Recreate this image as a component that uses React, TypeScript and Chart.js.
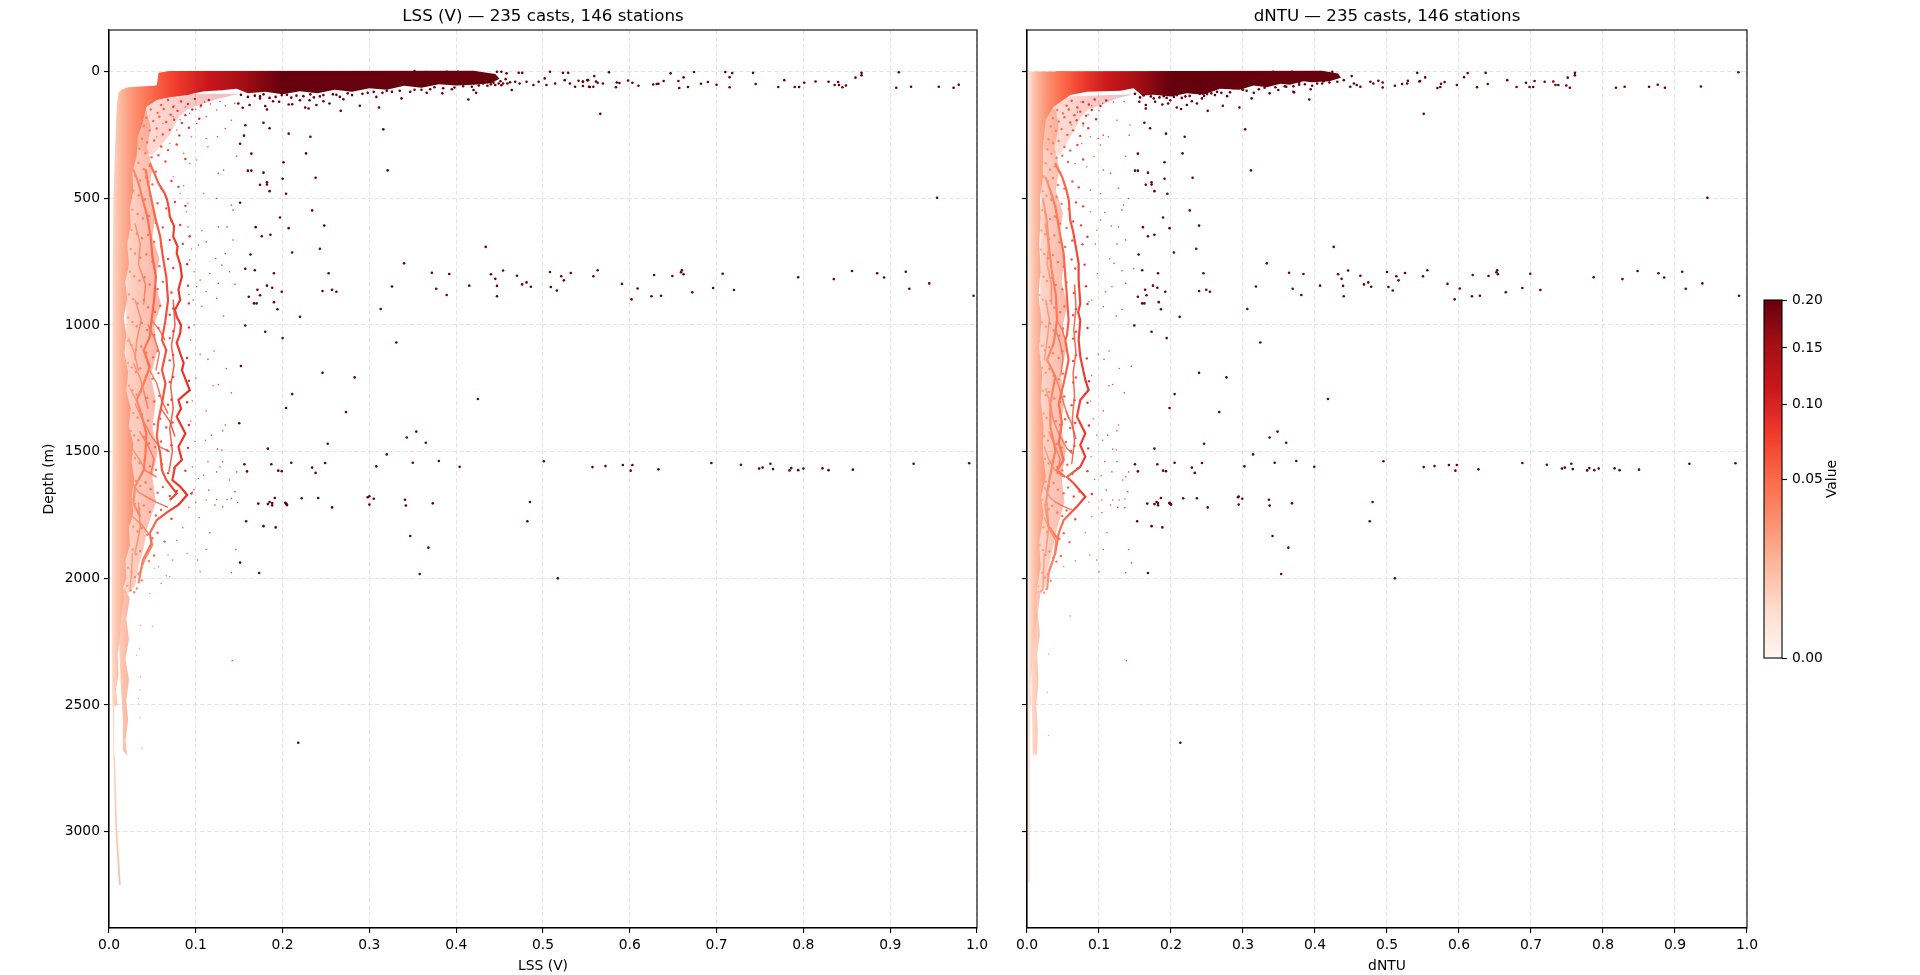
import React, { useEffect, useRef } from "react";
import { Chart, registerables, LinearScale } from "chart.js";

class SqrtScale extends LinearScale {
  static id = "sqrtNorm";
  static defaults = LinearScale.defaults;
  getPixelForValue(value: number) {
    return this.getPixelForDecimal(Math.sqrt(Math.max(value, 0) / this.max));
  }
  getValueForPixel(pixel: number) {
    const d = this.getDecimalForPixel(pixel);
    return d * d * this.max;
  }
}
Chart.register(...registerables, SqrtScale as any);

type P = [number, number];

const panelTitles = ["LSS (V) \u2014 235 casts, 146 stations", "dNTU \u2014 235 casts, 146 stations"];
const xLabels = ["LSS (V)", "dNTU"];
const xTicks = [0, 0.1, 0.2, 0.3, 0.4, 0.5, 0.6, 0.7, 0.8, 0.9, 1];
const depthTicks = [0, 500, 1000, 1500, 2000, 2500, 3000];
const depthRange = [-164, 3380];
const colorTicks = [0, 0.05, 0.1, 0.15, 0.2];
const redsRamp = [[255,245,240],[254,224,210],[252,187,161],[252,146,114],[251,106,74],[239,59,44],[203,24,29],[165,15,21],[103,0,13]];

const lssOutliers: P[] = [[.157,212],[.178,202],[.185,224],[.1555,253],[.207,245],[.232,257],[.151,285],[.164,324],[.227,323],[.316,228],[.321,390],[.201,358],[.160,391],[.164,391],[.178,399],[.200,423],[.238,419],[.174,447],[.182,437],[.182,446],[.185,472],[.204,482],[.151,518],[.234,548],[.197,576],[.169,614],[.207,618],[.248,608],[.176,650],[.186,644],[.243,699],[.211,714],[.163,722],[.434,692],[.340,757],[.157,778],[.168,784],[.190,796],[.253,796],[.372,794],[.392,799],[.440,800],[.454,785],[.445,818],[.470,806],[.508,791],[.521,808],[.532,795],[.481,832],[.476,840],[.486,849],[.415,845],[.447,846],[.377,857],[.326,848],[.509,850],[.516,864],[.524,824],[.389,882],[.447,887],[.182,845],[.188,853],[.171,861],[.174,883],[.161,889],[.199,869],[.167,915],[.170,915],[.190,910],[.194,938],[.246,866],[.257,861],[.262,869],[.313,937],[.220,968],
[.558,808],[.563,784],[.591,838],[.602,899],[.609,856],[.625,887],[.636,885],[.628,803],[.649,807],[.659,792],[.660,784],[.662,800],[.672,871],[.696,854],[.707,798],[.720,862],[.794,812],[.835,819],[.856,787],[.885,796],[.893,813],[.918,790],[.922,857],[.945,836],[.996,885],[.954,498],
[.157,1002],[.180,1027],[.200,1052],[.331,1069],[.152,1162],[.246,1189],[.283,1207],[.211,1273],[.204,1328],[.273,1344],[.150,1388],[.252,1469],[.183,1488],[.320,1511],[.156,1550],[.187,1550],[.210,1544],[.249,1545],[.159,1578],[.195,1575],[.199,1577],[.234,1563],[.238,1584],[.308,1558],[.191,1683],[.222,1684],[.241,1683],[.298,1680],[.300,1676],[.305,1686],[.300,1709],[.172,1705],[.183,1707],[.185,1699],[.188,1703],[.188,1712],[.203,1702],[.204,1705],[.205,1709],[.205,1711],[.257,1720],[.158,1775],[.178,1794],[.192,1799],[.151,1938],[.173,1979],[.218,2649],
[.425,1292],[.354,1421],[.343,1444],[.365,1465],[.380,1537],[.350,1544],[.404,1560],[.501,1538],[.557,1561],[.572,1557],[.592,1553],[.603,1553],[.601,1575],[.633,1570],[.694,1545],[.728,1552],[.749,1567],[.753,1563],[.762,1548],[.765,1569],[.784,1574],[.786,1565],[.794,1573],[.800,1567],[.822,1566],[.829,1573],[.857,1571],[.927,1548],[.991,1546],[.341,1690],[.342,1713],[.373,1704],[.485,1699],[.482,1775],[.347,1833],[.368,1879],[.358,1983],[.517,2000]];

const lssSurfaceDots: P[] = [[.576,3],[.559,18],[.561,39],[.569,47],[.554,61],[.546,57],[.563,44],[.558,60],[.551,34],[.546,39],[.585,43],[.588,45],[.584,62],[.598,35],[.603,44],[.610,56],[.627,51],[.631,49],[.633,48],[.639,37],[.647,7],[.656,37],[.657,65],[.662,23],[.667,61],[.674,2],[.682,48],[.690,41],[.700,52],[.710,2],[.718,6],[.715,22],[.715,62],[.742,5],[.745,49],[.771,61],[.778,34],[.790,61],[.795,61],[.801,44],[.814,39],[.829,40],[.836,53],[.840,41],[.841,53],[.845,62],[.849,55],[.860,24],[.867,5],[.867,15],[.907,64],[.910,3],[.924,60],[.956,60],[.973,64],[.979,52],[.566,167],
[.439,21],[.435,40],[.445,53],[.447,1],[.452,1],[.458,7],[.459,47],[.464,73],[.468,40],[.472,5],[.476,5],[.473,47],[.481,40],[.489,53],[.495,40],[.502,27],[.508,1],[.504,53],[.514,47],[.523,5],[.529,5],[.525,34],[.531,47],[.537,60],[.541,36],[.546,40],[.552,34],[.553,60],[.454,47],[.449,47],[.431,47],[.420,73],[.402,1],[.412,5],[.420,5],[.389,1],[.397,7],[.433,27],[.428,14],[.438,33],[.443,44],[.451,38],[.457,30],[.462,42],[.426,55],[.418,60],[.408,58],[.398,63],[.385,66],[.375,62],[.378,4],[.365,2],[.352,-2],[.440,50],[.436,56],[.452,54],
[.149,126],[.154,143],[.162,132],[.174,106],[.180,136],[.182,150],[.189,117],[.196,119],[.207,130],[.211,129],[.220,113],[.226,142],[.231,113],[.230,146],[.239,132],[.247,117],[.254,126],[.267,155],[.270,109],[.280,93],[.289,135],[.308,100],[.311,142],[.337,106],[.366,84],[.384,86],[.414,110],[.423,84],[.174,97],[.199,93],[.224,97],[.247,93],[.266,100],[.305,80],[.326,80],[.347,80],[.160,100],[.185,104],[.210,103],[.236,102],[.258,90],[.292,88],[.320,76],[.360,72],[.395,70],[.152,92],[.168,95],[.178,90],[.192,100],[.205,92],[.216,95],[.232,90],[.243,98],[.262,92],[.275,86],[.298,84],[.315,84],[.335,76],[.352,72],[.370,70]];

const lssSpeckle: P[] = [[.105,1116],[.114,1136],[.121,1103],[.135,1172],[.126,1235],[.120,1240],[.141,1268],[.112,1339],[.134,1395],[.131,1418],[.118,1435],[.111,1455],[.125,1490],[.130,1494],[.114,1540],[.131,1540],[.128,1560],[.124,1580],[.147,1580],[.139,1612],[.109,1593],[.103,1606],[.115,1652],[.145,1658],[.141,1685],[.148,1701],[.136,1689],[.124,1689],[.112,1691],[.122,1711],[.131,1718],[.104,1761],[.116,1820],[.112,1886],[.146,1886],[.068,1908],[.090,1902],[.073,1928],[.102,1928],[.057,1954],[.070,1994],[.141,1978],[.105,1974],
[.101,205],[.112,264],[.125,257],[.114,297],[.134,225],[.141,192],[.147,334],[.101,349],[.093,363],[.126,402],[.132,389],[.109,481],[.124,501],[.141,527],[.089,553],[.143,547],[.107,628],[.126,613],[.136,613],[.112,672],[.143,665],[.103,685],[.134,718],[.123,738],[.130,764],[.116,797],[.139,790],[.126,836],[.145,840],[.112,869],[.124,895],[.107,926],[.132,965],[.105,823],[.097,902],[.095,257],[.078,231],[.070,284],[.086,323],[.074,415],[.082,481],[.091,613],[.093,744],[.101,849],[.112,178],[.124,152],[.093,165],[.074,178],[.062,205],[.055,257],[.061,297],
[.050,2189],[.036,2185],[.035,2277],[.032,2303],[.036,2389],[.036,2441],[.034,2474],[.036,2550],[.038,2671],[.142,2325],
[.095,700],[.098,1000],[.100,1210],[.096,1300],[.094,1380],[.099,1460],[.096,1560],[.098,1650],[.092,1720],[.085,1800],[.078,1850],[.066,1990],[.060,2020],[.047,2060],[.052,1960],[.086,450],[.091,520],[.098,790],[.092,880],[.094,1060],[.096,1660],[.100,1700],[.110,120],[.128,118],[.145,125],[.088,140],[.100,150],[.117,128],[.075,135],[.082,190],[.105,140],[.134,135]];

// x in thousandths, depth in metres, read pair by pair
const lssFineDots = [45,118,52,105,60,132,68,112,74,140,83,118,91,128,99,108,106,134,115,112,48,150,56,163,63,148,71,170,79,155,88,172,96,150,43,182,51,195,58,178,66,199,75,190,84,203,104,186,
40,215,47,232,55,225,62,248,70,230,81,252,92,222,38,265,44,280,52,272,60,296,68,310,78,288,35,305,42,322,49,338,57,330,65,355,88,345,34,360,40,385,47,372,54,395,
30,412,36,430,43,418,50,446,60,460,72,432,80,455,28,470,34,488,41,505,48,492,56,520,66,540,76,515,88,530,27,545,33,562,39,580,46,570,54,598,62,615,72,590,82,605,26,625,32,640,38,658,45,645,52,672,60,690,70,665,85,680,93,650,25,700,30,718,36,735,43,722,50,750,58,768,68,740,74,775,90,760,
24,790,29,808,35,825,41,812,47,840,56,858,62,830,72,872,91,845,23,880,28,898,33,915,40,902,45,930,53,948,59,925,70,960,74,935,92,915,22,970,27,988,32,1005,38,992,44,1020,52,1040,57,1012,70,1052,74,1025,92,1010,22,1062,26,1080,31,1098,37,1085,43,1110,51,1128,56,1102,70,1140,74,1118,90,1130,22,1150,26,1168,31,1186,36,1172,43,1198,50,1212,
57,1190,70,1225,74,1205,92,1220,23,1240,27,1258,32,1275,37,1262,44,1288,52,1302,58,1280,68,1315,72,1295,90,1305,24,1330,28,1348,33,1365,38,1352,45,1378,52,1392,59,1370,66,1405,73,1385,92,1395,25,1418,29,1436,34,1455,40,1442,46,1468,53,1482,60,1460,67,1495,72,1475,91,1485,26,1508,30,1526,35,1545,41,1532,47,1558,54,1572,61,1550,68,1585,75,1565,88,1575,27,1598,31,1616,36,1635,42,1622,48,1648,56,1662,62,1640,70,1675,78,1655,95,1665,
26,1688,30,1706,35,1725,40,1712,47,1738,54,1752,60,1730,72,1765,24,1778,28,1796,33,1815,38,1802,44,1828,50,1842,56,1820,64,1855,23,1868,27,1886,31,1905,36,1892,41,1918,46,1932,52,1910,22,1958,26,1976,30,1995,34,1982,38,2008,21,2030,25,2048,29,2055,32,2040];

const lssBody: P[] = [[.022,62],[.014,72],[.011,85],[.009,130],[.007,300],[.005,500],[.004,1000],[.004,1500],[.003,2000],[.003,2300],[.004,2510],[.010,2500],[.008,2440],[.011,2380],[.010,2300],[.013,2220],[.014,2150],[.017,2090],[.016,2040],[.020,2000],[.019,1930],[.024,1870],[.023,1800],[.028,1740],[.026,1680],[.029,1610],[.026,1540],[.028,1470],[.023,1400],[.025,1330],[.020,1260],[.022,1190],[.018,1110],[.020,1040],[.017,970],[.021,900],[.019,830],[.023,760],[.021,680],[.025,610],[.024,540],[.028,470],[.027,400],[.032,330],[.033,260],[.039,200],[.043,140],[.055,112],[.070,100],[.093,92],[.093,60],[.055,55]];
const lssSurface: P[] = [[.057,5],[.070,-2],[.420,-3],[.445,10],[.450,28],[.440,46],[.420,52],[.400,55],[.380,50],[.360,64],[.340,56],[.320,72],[.300,66],[.280,80],[.260,72],[.240,86],[.220,78],[.200,90],[.180,80],[.160,86],[.147,68],[.130,74],[.110,78],[.093,90],[.060,105],[.030,75],[.055,55]];
const lssTail: P[] = [[.004,2400],[.005,2700],[.0075,3000],[.0115,3210],[.0135,3210],[.0095,3000],[.0068,2700],[.006,2400]];
const lssDeepColumn: P[] = [[.010,2050],[.018,2040],[.024,2080],[.020,2160],[.023,2240],[.019,2320],[.023,2400],[.020,2480],[.022,2560],[.019,2640],[.021,2700],[.016,2680],[.016,2560],[.014,2450],[.012,2300]];
const lssHaze: P[] = [[.03,90],[.15,88],[.125,108],[.11,125],[.09,150],[.08,180],[.07,250],[.05,330],[.03,300]];
const lssMidBand: P[] = [[.02,120],[.042,140],[.048,220],[.044,300],[.050,380],[.046,470],[.054,560],[.050,650],[.058,740],[.053,830],[.060,920],[.052,1000],[.056,1100],[.048,1200],[.054,1300],[.050,1400],[.056,1500],[.050,1600],[.054,1700],[.044,1800],[.040,1880],[.034,1950],[.030,2030],[.022,2060],[.012,2060],[.02,1000]];
const lssVeins: P[][] = [
  [[.047,362],[.052,400],[.057,441],[.064,480],[.067,507],[.069,540],[.070,572],[.075,610],[.074,652],[.079,690],[.078,717],[.082,760],[.084,810],[.080,860],[.082,902],[.076,940],[.078,968],[.083,1000],[.082,1033],[.078,1070],[.082,1112],[.086,1150],[.084,1178],[.093,1257],[.080,1296],[.083,1330],[.078,1362],[.088,1428],[.080,1481],[.084,1533],[.076,1560],[.073,1612],[.082,1638],[.090,1671],[.080,1710],[.068,1737],[.055,1770],[.047,1822],[.049,1862],[.039,1928],[.034,2020]],
  [[.042,385],[.045,441],[.049,507],[.053,572],[.059,652],[.062,730],[.066,810],[.068,902],[.065,981],[.061,1060],[.066,1099],[.061,1178],[.065,1231],[.061,1310],[.057,1375],[.055,1441],[.059,1507],[.061,1573],[.066,1612],[.078,1665],[.070,1691]],
  [[.028,385],[.034,441],[.039,507],[.044,572],[.048,652],[.050,730],[.054,810],[.052,902],[.049,981],[.047,1047],[.040,1099],[.047,1165],[.040,1231],[.032,1296],[.038,1362],[.043,1428],[.042,1507],[.040,1573],[.030,1638],[.028,1704],[.036,1757]],
  [[.074,900],[.076,1000],[.072,1080],[.075,1160],[.071,1240],[.074,1330],[.070,1410],[.073,1500],[.069,1580]],
  [[.040,1099],[.047,1180],[.055,1230],[.061,1300],[.068,1350]],
  [[.028,1150],[.036,1210],[.040,1260],[.045,1330]],
  [[.030,1310],[.038,1370],[.049,1440],[.058,1480],[.070,1500]],
  [[.025,1480],[.035,1530],[.042,1575],[.055,1600]],
  [[.024,1250],[.032,1300]],
  [[.026,1620],[.034,1660],[.044,1680],[.055,1700],[.068,1720]],
  [[.025,1750],[.038,1790],[.047,1830],[.050,1870],[.042,1920],[.034,1990]],
  [[.030,900],[.037,980],[.032,1060],[.030,1140]],
  [[.027,1900],[.026,1980],[.024,2050]],
  [[.034,1700],[.036,1800],[.030,1900]],
  [[.049,981],[.058,1020],[.0645,1060]],
  [[.030,600],[.036,680],[.034,760],[.042,840],[.040,920]],
  [[.045,1000],[.052,1050],[.058,1110],[.054,1180]],
  [[.035,1420],[.044,1470],[.052,1530],[.048,1590]],
  [[.060,1330],[.070,1380],[.076,1440]],
  [[.022,1050],[.029,1110],[.034,1180]],
];

const ntuOutliers: P[] = [[.163,202],[.171,224],[.193,245],[.219,257],[.303,228],[.154,324],[.216,323],[.311,390],[.191,358],[.150,391],[.154,391],[.168,399],[.191,423],[.230,419],[.165,447],[.173,437],[.173,446],[.177,472],[.195,482],[.226,548],[.189,576],[.161,614],[.198,618],[.239,608],[.168,650],[.177,644],[.235,699],[.204,714],[.155,722],[.426,692],[.333,757],[.160,784],[.182,796],[.245,796],[.364,794],[.384,799],[.432,800],[.446,785],[.437,818],[.463,806],[.500,791],[.513,808],[.525,795],[.474,832],[.468,840],[.478,849],[.407,845],[.439,846],[.369,857],[.318,848],[.502,850],[.508,864],[.516,824],[.381,882],[.440,887],[.175,845],[.181,853],[.164,861],[.166,883],[.154,889],[.192,869],[.160,915],[.163,915],[.183,910],[.186,938],[.239,866],[.249,861],[.254,869],[.306,937],[.212,968],
[.550,808],[.556,784],[.584,838],[.594,899],[.601,856],[.618,887],[.629,885],[.619,803],[.641,807],[.652,792],[.653,784],[.654,800],[.665,871],[.688,854],[.699,798],[.713,862],[.787,812],[.827,819],[.848,787],[.877,796],[.885,813],[.910,790],[.915,857],[.938,836],[.989,885],[.945,498],
[.149,1002],[.173,1027],[.194,1052],[.324,1069],[.239,1189],[.277,1207],[.205,1273],[.198,1328],[.267,1344],[.418,1292],[.246,1469],[.177,1488],[.348,1421],[.337,1444],[.360,1465],[.314,1511],[.150,1550],[.181,1550],[.205,1544],[.243,1545],[.154,1578],[.189,1575],[.193,1577],[.229,1563],[.233,1584],[.302,1558],[.344,1544],[.374,1537],[.399,1560],[.186,1683],[.217,1684],[.236,1684],[.293,1680],[.294,1677],[.299,1686],[.294,1709],[.167,1705],[.177,1707],[.180,1699],[.182,1703],[.182,1712],[.198,1702],[.199,1705],[.200,1709],[.198,1704],[.251,1720],[.336,1690],[.337,1713],[.368,1704],[.153,1775],[.173,1794],[.188,1799],[.168,1979],[.353,1983],[.341,1833],[.363,1879],[.213,2649],
[.495,1538],[.480,1699],[.476,1775],[.511,2000],[.551,1561],[.566,1557],[.586,1553],[.597,1553],[.595,1575],[.627,1570],[.688,1545],[.722,1552],[.743,1567],[.747,1563],[.756,1548],[.758,1569],[.778,1574],[.781,1565],[.788,1573],[.794,1567],[.816,1566],[.823,1573],[.850,1571],[.920,1548],[.984,1546]];

const ntuSurfaceDots: P[] = [[.612,6],[.607,22],[.553,23],[.546,37],[.570,65],[.574,61],[.575,48],[.580,41],[.597,53],[.625,62],[.637,5],[.640,49],[.667,34],[.680,61],[.693,44],[.698,61],[.703,61],[.705,37],[.719,40],[.731,39],[.734,53],[.738,53],[.749,55],[.754,64],[.751,24],[.761,5],[.761,15],[.818,64],[.830,60],[.864,60],[.876,52],[.886,64],[.936,59],[.988,3],[.551,167],
[.342,1],[.347,14],[.352,5],[.368,1],[.331,14],[.337,86],[.349,73],[.370,80],[.394,70],[.392,110],[.384,27],[.398,27],[.403,47],[.410,47],[.419,7],[.424,1],[.419,27],[.431,40],[.440,34],[.451,18],[.454,47],[.449,60],[.458,53],[.463,60],[.477,40],[.481,47],[.488,36],[.494,43],[.494,63],[.511,56],[.521,49],[.528,47],[.529,36],[.542,5],[.545,39],[.392,14],[.404,30],[.412,38],[.420,43],[.378,44],[.386,50],[.396,56],[.370,58],[.360,60],[.345,62],
[.156,119],[.165,146],[.165,132],[.178,119],[.188,130],[.196,126],[.199,113],[.208,142],[.214,148],[.222,132],[.229,117],[.236,126],[.243,106],[.251,155],[.261,93],[.272,135],[.278,97],[.295,142],[.299,70],[.312,106],[.315,84],[.371,82],[.264,80],[.287,66],[.250,89],[.208,93],[.190,97],[.157,102],[.176,106],[.220,98],[.240,88],[.300,72],[.330,64],[.358,58],[.378,52],[.150,88],[.162,94],[.172,98],[.184,102],[.194,104],[.204,100],[.215,104],[.226,96],[.246,96],[.256,86],[.270,84],[.282,82],[.305,76],[.322,70]];

const ntuSpeckle: P[] = [[.099,264],[.106,251],[.113,257],[.125,192],[.143,211],[.142,251],[.137,334],[.102,290],[.093,336],[.083,376],[.067,363],[.076,284],[.088,257],[.106,389],[.116,402],[.088,468],[.102,481],[.127,461],[.141,501],[.134,527],[.132,547],[.108,556],[.102,586],[.088,553],[.097,626],[.117,610],[.127,613],[.137,665],[.095,681],[.125,681],[.115,739],[.121,757],[.132,786],[.148,777],[.098,797],[.109,869],[.118,849],[.137,836],[.106,928],[.132,939],[.124,965],[.086,909],[.090,902],
[.099,1116],[.107,1136],[.114,1103],[.128,1172],[.145,1163],[.119,1235],[.114,1240],[.135,1268],[.106,1339],[.127,1395],[.125,1418],[.112,1435],[.097,1435],[.105,1455],[.119,1490],[.124,1494],[.108,1540],[.125,1540],[.118,1580],[.103,1595],[.141,1580],[.137,1599],[.133,1612],[.140,1658],[.110,1652],[.136,1687],[.128,1691],[.119,1691],[.104,1691],[.116,1711],[.126,1720],[.136,1721],[.104,1740],[.090,1757],[.111,1820],[.081,1820],[.106,1886],[.141,1886],[.087,1908],[.097,1928],[.145,1939],[.067,1931],[.051,1954],[.100,1974],[.137,1978],[.060,2149],
[.090,1200],[.088,1300],[.092,1370],[.089,1520],[.094,1610],[.086,1700],[.138,2325],[.030,2300],[.028,2450],[.030,2620],[.075,120],[.090,135],[.105,125],[.120,120],[.135,118],[.070,160],[.085,170],[.100,155],[.062,210],[.078,215]];

// x in thousandths, depth in metres, read pair by pair
const ntuFineDots = [40,122,48,108,55,135,62,115,70,142,78,120,86,130,94,110,102,136,110,114,42,152,50,165,58,150,66,172,74,158,82,174,90,152,36,184,44,197,52,180,60,201,69,192,78,205,96,188,33,217,40,234,48,227,56,250,64,232,74,254,85,224,30,267,36,282,44,274,52,298,60,312,70,290,28,307,34,324,41,340,49,332,57,357,78,347,26,362,32,387,39,374,46,397,
23,414,29,432,36,420,43,448,52,462,63,434,72,457,22,472,27,490,34,507,41,494,48,522,58,542,68,517,78,532,21,547,26,564,32,582,39,572,46,600,55,617,64,592,75,607,20,627,25,642,31,660,38,647,45,674,53,692,63,667,77,682,84,652,19,702,24,720,29,737,36,724,43,752,51,770,62,742,67,777,80,762,
18,792,23,810,28,827,34,814,40,842,49,860,55,832,65,874,82,847,17,882,22,900,27,917,33,904,38,932,46,950,52,927,64,962,68,937,84,917,17,972,21,990,26,1007,32,994,37,1022,45,1042,50,1014,64,1054,68,1027,84,1012,17,1064,21,1082,25,1100,31,1087,36,1112,44,1130,49,1104,64,1142,68,1120,83,1132,18,1152,21,1170,26,1188,31,1174,37,1200,44,1214,
50,1192,64,1227,68,1207,86,1222,18,1242,22,1260,26,1277,31,1264,38,1290,46,1304,52,1282,62,1317,66,1297,84,1307,19,1332,23,1350,27,1367,33,1354,40,1380,46,1394,53,1372,60,1407,67,1387,86,1397,20,1420,24,1438,29,1457,35,1444,41,1470,48,1484,54,1462,61,1497,66,1477,85,1487,21,1510,25,1528,30,1547,36,1534,42,1560,49,1574,56,1552,63,1587,70,1567,84,1577,22,1600,26,1618,31,1637,37,1624,43,1650,51,1664,57,1642,65,1677,73,1657,90,1667,
21,1690,25,1708,30,1727,35,1714,42,1740,49,1754,55,1732,67,1767,19,1780,23,1798,28,1817,33,1804,39,1830,45,1844,51,1822,59,1857,18,1870,22,1888,26,1907,31,1894,36,1920,41,1934,47,1912,17,1960,21,1978,25,1997,29,1984,33,2010,16,2032,20,2050,24,2057,27,2042];

const ntuBody: P[] = [[.001,0],[.001,200],[.002,1000],[.002,2000],[.002,2500],[.006,2500],[.005,2420],[.008,2300],[.011,2220],[.014,2150],[.013,2060],[.019,1950],[.017,1860],[.023,1750],[.020,1680],[.026,1600],[.022,1500],[.023,1400],[.019,1300],[.021,1200],[.017,1090],[.020,981],[.016,880],[.019,780],[.017,680],[.019,580],[.018,500],[.022,420],[.022,300],[.026,190],[.037,139],[.050,110],[.060,93],[.060,0]];
const ntuSurface: P[] = [[.040,-1],[.410,-3],[.432,8],[.436,24],[.420,38],[.395,42],[.384,38],[.365,52],[.352,48],[.333,62],[.315,55],[.295,72],[.268,68],[.245,92],[.222,86],[.200,98],[.176,92],[.160,94],[.148,66],[.130,76],[.083,80],[.060,93],[.037,139],[.030,60]];
const ntuTail: P[] = [[.001,2400],[.001,3200],[.003,3200],[.004,2400]];
const ntuDeepColumn: P[] = [[.005,2050],[.019,2050],[.015,2140],[.018,2220],[.014,2300],[.016,2400],[.013,2500],[.015,2600],[.014,2695],[.008,2695],[.006,2400]];
const ntuHaze: P[] = [[.03,100],[.148,90],[.125,105],[.105,130],[.085,150],[.075,180],[.060,260],[.045,330],[.02,300]];
const ntuMidBand: P[] = [[.02,130],[.040,150],[.044,220],[.038,300],[.045,380],[.040,470],[.050,560],[.045,650],[.052,740],[.048,830],[.056,920],[.050,1000],[.054,1100],[.047,1200],[.052,1300],[.047,1400],[.054,1500],[.048,1600],[.052,1700],[.042,1800],[.036,1880],[.030,1950],[.026,2030],[.020,2060],[.010,2060],[.018,1000]];
const ntuVeins: P[][] = [
  [[.039,362],[.0486,415],[.054,460],[.058,507],[.060,586],[.064,630],[.067,678],[.0717,757],[.0717,822],[.074,915],[.071,950],[.074,981],[.0717,1060],[.074,1125],[.081,1217],[.0856,1257],[.074,1296],[.0694,1362],[.081,1428],[.074,1474],[.081,1520],[.074,1560],[.0555,1600],[.0648,1625],[.081,1678],[.0694,1717],[.0509,1770],[.044,1822],[.0393,1901],[.0301,1980],[.0278,2045]],
  [[.0254,415],[.0323,468],[.0393,533],[.044,612],[.0509,718],[.0532,809],[.0555,888],[.0578,981],[.0555,1040],[.0532,1060],[.0578,1138],[.0509,1231],[.044,1310],[.0486,1388],[.044,1467],[.0509,1533],[.0417,1573],[.0532,1600]],
  [[.022,500],[.027,580],[.030,680],[.034,780],[.040,880],[.0417,981],[.037,1073],[.0278,1138],[.0394,1204],[.0324,1310],[.0324,1402],[.0394,1494],[.0347,1560],[.0301,1625],[.0255,1717],[.0301,1796],[.044,1849]],
  [[.066,840],[.068,930],[.065,1020],[.068,1110],[.064,1190],[.066,1280],[.063,1370],[.066,1460],[.062,1550]],
  [[.0278,1138],[.036,1180],[.044,1240],[.050,1300],[.058,1370]],
  [[.026,1250],[.032,1310],[.037,1380],[.046,1440],[.056,1490],[.064,1510]],
  [[.024,1480],[.030,1530],[.038,1570],[.050,1600]],
  [[.024,1640],[.032,1680],[.040,1700],[.050,1715],[.062,1730]],
  [[.024,1760],[.032,1810],[.040,1850],[.038,1910],[.030,1970]],
  [[.026,900],[.031,980],[.028,1060],[.024,1140]],
  [[.024,1900],[.023,1980],[.022,2050]],
  [[.028,1700],[.030,1800],[.026,1900]],
  [[.0417,981],[.049,1020],[.0532,1060]],
  [[.025,600],[.030,680],[.028,760],[.034,840],[.034,920]],
  [[.040,1020],[.046,1070],[.050,1130],[.047,1200]],
  [[.030,1420],[.038,1470],[.046,1530],[.042,1590]],
  [[.054,1340],[.062,1390],[.068,1450]],
];

const FONT = "'DejaVu Sans'";
const FS = 13.89;

function redAt(t: number, alpha = 1) {
  const p = Math.min(Math.max(t, 0), 1) * (redsRamp.length - 1);
  const i = Math.min(Math.floor(p), redsRamp.length - 2);
  const f = p - i;
  const c = redsRamp[i].map((v, k) => Math.round(v + (redsRamp[i + 1][k] - v) * f));
  return `rgba(${c[0]},${c[1]},${c[2]},${alpha})`;
}
const colorOfValue = (v: number, alpha = 1) => redAt(Math.sqrt(Math.min(Math.max(v, 0), 0.2) / 0.2), alpha);

function valueGradient(chart: any, alpha: number) {
  const sx = chart.scales.x;
  const x0 = sx ? sx.getPixelForValue(0) : NaN;
  const x1 = sx ? sx.getPixelForValue(0.2) : NaN;
  if (!isFinite(x0) || !isFinite(x1) || x0 === x1) return colorOfValue(0.02, alpha);
  const g = chart.ctx.createLinearGradient(x0, 0, x1, 0);
  for (let k = 0; k <= 40; k++) {
    const t = k / 40;
    g.addColorStop(t * t, redAt(t, alpha));
  }
  return g;
}

const pts = (a: P[]) => a.map(([x, y]) => ({ x, y }));
function finePts(flat: number[]) {
  const out: { x: number; y: number }[] = [];
  for (let i = 0; i + 1 < flat.length; i += 2) out.push({ x: flat[i] / 1000, y: flat[i + 1] });
  return out;
}

const framePlugin = {
  id: "frame",
  afterDraw(chart: any) {
    const { ctx, chartArea: a } = chart;
    ctx.save();
    ctx.strokeStyle = "#000";
    ctx.lineWidth = 1.1;
    ctx.strokeRect(a.left, a.top, a.right - a.left, a.bottom - a.top);
    ctx.restore();
  },
};

function polygon(data: P[], alpha: number) {
  return {
    data: pts(data), showLine: true, fill: "shape", tension: 0, pointRadius: 0, borderWidth: 0,
    borderColor: "rgba(0,0,0,0)",
    backgroundColor: (c: any) => valueGradient(c.chart, alpha),
  };
}
function vein(data: P[], width: number, alpha: number) {
  return {
    data: pts(data), showLine: true, fill: false, tension: 0, pointRadius: 0, borderWidth: width,
    borderColor: (c: any) => valueGradient(c.chart, alpha),
  };
}

function makePanel(canvas: HTMLCanvasElement, o: any) {
  const gridOpts = { color: "#e4e4e4", lineWidth: 1.1, tickColor: "#000", tickLength: 5, tickWidth: 1.1, tickBorderDash: [] };
  const borderOpts = { display: true, color: "#000", width: 1.1, dash: [4.5, 2.5] };
  return new Chart(canvas, {
    type: "scatter",
    data: {
      datasets: [
        { data: pts(o.outliers), pointRadius: 1.3, pointBorderWidth: 0, backgroundColor: "#67000d" },
        { data: pts(o.surfaceDots), pointRadius: 1.3, pointBorderWidth: 0, backgroundColor: "#67000d" },
        ...o.veins.map((v: P[], i: number) => vein(v, i < 3 ? 2.2 : 1.5, i < 3 ? 1 : 0.85)),
        { data: pts(o.speckle), pointRadius: 0.8, pointBorderWidth: 0,
          backgroundColor: (c: any) => colorOfValue(c.raw ? c.raw.x : 0.05, 0.75) },
        { data: finePts(o.fine), pointRadius: 1.2, pointBorderWidth: 0,
          backgroundColor: (c: any) => colorOfValue(c.raw ? c.raw.x : 0.05, 1) },
        polygon(o.surface, 1),
        polygon(o.body, 1),
        polygon(o.deep, 0.75),
        polygon(o.tail, 1),
        polygon(o.haze, 0.25),
        polygon(o.mid, 0.45),
      ] as any,
    },
    options: {
      animation: false, responsive: false, devicePixelRatio: 1, events: [],
      layout: { padding: { left: 0, right: 23, top: 0, bottom: 0 } },
      plugins: {
        legend: { display: false }, tooltip: { enabled: false },
        title: { display: true, text: o.title, fullSize: false, color: "#000",
          font: { family: FONT, size: 16.67, weight: "normal", lineHeight: 1.2 },
          padding: { top: 7, bottom: 3 } },
      },
      scales: {
        x: {
          type: "linear", min: 0, max: 1,
          afterBuildTicks: (s: any) => { s.ticks = xTicks.map((value) => ({ value })); },
          afterFit: (s: any) => { s.height = 47; },
          ticks: { color: "#000", font: { family: FONT, size: FS }, padding: 4, maxRotation: 0, autoSkip: false,
            callback: (v: any) => Number(v).toFixed(1) },
          grid: gridOpts,
          border: borderOpts,
          title: { display: true, text: o.xLabel, color: "#000", font: { family: FONT, size: FS, lineHeight: 1.2 }, padding: { top: 5, bottom: 0 } },
        },
        y: {
          type: "linear", reverse: true, min: depthRange[0], max: depthRange[1],
          afterBuildTicks: (s: any) => { s.ticks = depthTicks.map((value) => ({ value })); },
          afterFit: (s: any) => { s.width = o.axisWidth; },
          ticks: { color: "#000", font: { family: FONT, size: FS }, padding: 4, autoSkip: false,
            callback: (v: any) => (o.showDepth ? String(v) : "") },
          grid: gridOpts,
          border: borderOpts,
          title: o.showDepth
            ? { display: true, text: "Depth (m)", color: "#000", font: { family: FONT, size: FS, lineHeight: 1.2 }, padding: { top: 41, bottom: 0 } }
            : { display: false },
        },
      },
    } as any,
    plugins: [framePlugin],
  });
}

function makeColorbar(canvas: HTMLCanvasElement) {
  const valuePlugin = {
    id: "valueLabel",
    afterDraw(chart: any) {
      const { ctx } = chart;
      ctx.save();
      ctx.translate(82, 479);
      ctx.rotate(-Math.PI / 2);
      ctx.fillStyle = "#000";
      ctx.font = `${FS}px ${FONT}`;
      ctx.textAlign = "center";
      ctx.textBaseline = "middle";
      ctx.fillText("Value", 0, 0);
      ctx.restore();
    },
  };
  return new Chart(canvas, {
    type: "bar",
    data: {
      labels: [""],
      datasets: [{
        data: [[colorTicks[0], colorTicks[colorTicks.length - 1]]],
        barPercentage: 1, categoryPercentage: 1, borderWidth: 0,
        backgroundColor: (c: any) => {
          const a = c.chart.chartArea;
          if (!a) return "#cb181d";
          const g = c.chart.ctx.createLinearGradient(0, a.bottom, 0, a.top);
          for (let k = 0; k <= 40; k++) g.addColorStop(k / 40, redAt(k / 40));
          return g;
        },
      }] as any,
    },
    options: {
      animation: false, responsive: false, devicePixelRatio: 1, events: [],
      layout: { padding: { left: 14, right: 0, top: 300, bottom: 317 } },
      plugins: { legend: { display: false }, tooltip: { enabled: false } },
      scales: {
        x: { display: false, type: "category" },
        y: {
          type: "sqrtNorm", position: "right", min: 0, max: 0.2,
          afterBuildTicks: (s: any) => { s.ticks = colorTicks.map((value) => ({ value })); },
          afterFit: (s: any) => { s.width = 138; },
          ticks: { color: "#000", font: { family: FONT, size: FS }, padding: 5, autoSkip: false,
            callback: (v: any) => Number(v).toFixed(2) },
          grid: { display: true, drawOnChartArea: false, tickColor: "#000", tickLength: 5, tickWidth: 1.1 },
          border: { display: false },
        },
      },
    } as any,
    plugins: [framePlugin, valuePlugin],
  });
}

export default function App() {
  const a = useRef<HTMLCanvasElement>(null);
  const b = useRef<HTMLCanvasElement>(null);
  const c = useRef<HTMLCanvasElement>(null);
  useEffect(() => {
    const charts = [
      makePanel(a.current!, { title: panelTitles[0], xLabel: xLabels[0], axisWidth: 109, showDepth: true,
        outliers: lssOutliers, surfaceDots: lssSurfaceDots, speckle: lssSpeckle, fine: lssFineDots, veins: lssVeins,
        surface: lssSurface, body: lssBody, deep: lssDeepColumn, tail: lssTail, haze: lssHaze, mid: lssMidBand }),
      makePanel(b.current!, { title: panelTitles[1], xLabel: xLabels[1], axisWidth: 27, showDepth: false,
        outliers: ntuOutliers, surfaceDots: ntuSurfaceDots, speckle: ntuSpeckle, fine: ntuFineDots, veins: ntuVeins,
        surface: ntuSurface, body: ntuBody, deep: ntuDeepColumn, tail: ntuTail, haze: ntuHaze, mid: ntuMidBand }),
      makeColorbar(c.current!),
    ];
    return () => charts.forEach((ch) => ch.destroy());
  }, []);
  const st = (left: number): React.CSSProperties => ({ position: "absolute", left, top: 0, display: "block" });
  return (
    <div style={{ position: "absolute", left: 0, top: 0, width: 1920, height: 975, background: "#fff", overflow: "hidden" }}>
      <canvas ref={a} width={1000} height={975} style={st(0)} />
      <canvas ref={b} width={770} height={975} style={st(1000)} />
      <canvas ref={c} width={170} height={975} style={st(1750)} />
    </div>
  );
}
